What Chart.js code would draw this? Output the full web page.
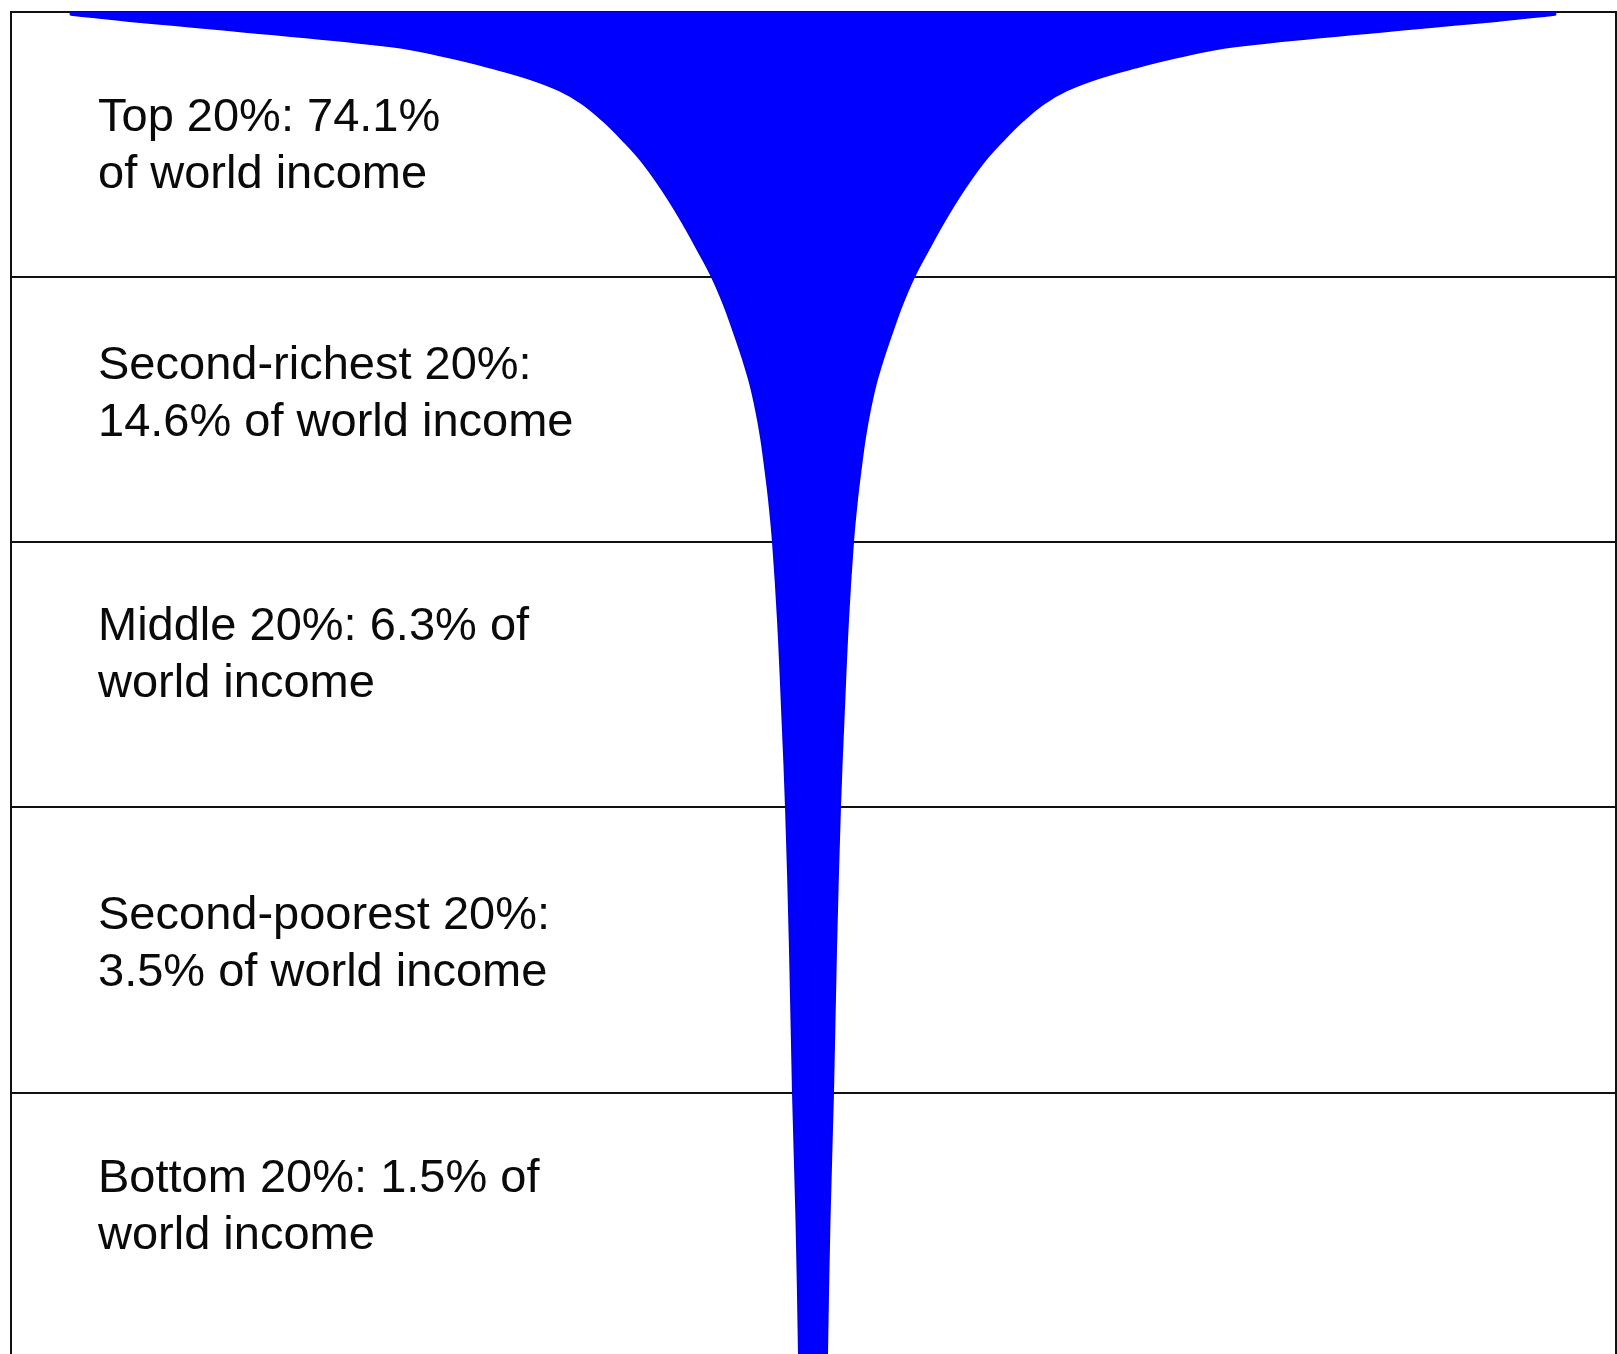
<!DOCTYPE html>
<html lang="en">
<head>
    <meta charset="UTF-8">
    <title>World income distribution by population quintile</title>
    <script src="https://cdn.jsdelivr.net/npm/chart.js"></script>
    <style>
        html, body { margin: 0; padding: 0; background: #fff; overflow: hidden; }
        .wrap { width: 1617px; height: 1354px; position: relative; }
    </style>
</head>
<body>
    <div class="wrap"><canvas id="glassChart"></canvas></div>

    <script>
        // Population quintiles, richest at the top
        const quintiles = ["Top", "Second-richest", "Middle", "Second-poorest", "Bottom"];
        const incomeShare = [74.1, 14.6, 6.3, 3.5, 1.5];

        // Label text as it is wrapped in the picture
        const labelLines = [
            ["Top 20%: 74.1%", "of world income"],
            ["Second-richest 20%:", "14.6% of world income"],
            ["Middle 20%: 6.3% of", "world income"],
            ["Second-poorest 20%:", "3.5% of world income"],
            ["Bottom 20%: 1.5% of", "world income"]
        ];

        // Population rank (%) where the divider lines sit
        const bandEdges = [0, 20, 40, 60, 81.6];

        // Outline of the glass: depth (population rank %) and half-width
        const depth     = [0,   0.2, 1.4, 2.6, 3.4, 4.2, 5.0, 5.9, 6.9, 8.2, 9.7, 11.3, 13.4, 15.7, 18.0, 20,  22.1, 24.2, 26.1, 28, 30, 32.1, 34.6, 36.8, 40, 45.9, 53.4, 60, 70.8, 81.6, 91.2, 101.3, 106.3];
        const halfWidth = [742, 742, 580, 420, 365, 322, 285, 254, 231, 210, 190, 171,  151,  132,  115,  101, 89,   79,   70.5, 63, 57, 52,   47.5, 44,   40, 35,   30.5, 27, 23,   20,   16.5, 14,    13];

        // layout only
        const LABEL_X = -715;
        const LABEL_DEPTH = [9.0, 27.7, 47.4, 69.2, 89.1];
        const LINE_GAP = 57;

        // walk down the left side, then back up the right side
        const outline = [];
        for (let i = 0; i < depth.length; i++) outline.push({ x: -halfWidth[i], y: depth[i] });
        for (let i = depth.length - 1; i >= 0; i--) outline.push({ x: halfWidth[i], y: depth[i] });

        const bandLabels = {
            id: "bandLabels",
            afterDraw(chart) {
                const { ctx, scales: { x, y } } = chart;
                ctx.save();
                ctx.font = '47px "Liberation Sans", Arial, sans-serif';
                ctx.fillStyle = "#0a0a0a";
                ctx.textAlign = "left";
                ctx.textBaseline = "alphabetic";
                labelLines.forEach((lines, i) => {
                    const base = y.getPixelForValue(LABEL_DEPTH[i]);
                    lines.forEach((t, j) => ctx.fillText(t, x.getPixelForValue(LABEL_X), base + j * LINE_GAP));
                });
                ctx.restore();
            }
        };

        new Chart(document.getElementById("glassChart"), {
            type: "scatter",
            data: {
                datasets: [{
                    label: "Share of world income",
                    data: outline,
                    showLine: true,
                    fill: "shape",
                    backgroundColor: "#0000ff",
                    borderColor: "#0000ee",
                    borderWidth: 2,
                    tension: 0.4,
                    pointRadius: 0
                }]
            },
            options: {
                responsive: true,
                maintainAspectRatio: false,
                animation: false,
                events: [],
                layout: { padding: { left: 11, top: 12, right: 1, bottom: 0 } },
                plugins: {
                    legend: { display: false },
                    tooltip: { enabled: false }
                },
                scales: {
                    x: {
                        type: "linear",
                        position: "top",
                        min: -802,
                        max: 803,
                        ticks: { display: false },
                        grid: { display: false, drawTicks: false },
                        border: { display: true, color: "#111", width: 2 },
                        z: 1
                    },
                    y: {
                        type: "linear",
                        position: "left",
                        reverse: true,
                        min: 0,
                        max: 101.3,
                        afterBuildTicks: (scale) => { scale.ticks = bandEdges.map(v => ({ value: v })); },
                        ticks: { display: false },
                        grid: { color: "#111", lineWidth: 2, drawTicks: false },
                        border: { display: true, color: "#111", width: 2 },
                        z: 1
                    },
                    yRight: {
                        type: "linear",
                        position: "right",
                        reverse: true,
                        min: 0,
                        max: 101.3,
                        ticks: { display: false },
                        grid: { display: false, drawTicks: false },
                        border: { display: true, color: "#111", width: 2 }
                    }
                }
            },
            plugins: [bandLabels]
        });
    </script>
</body>
</html>
